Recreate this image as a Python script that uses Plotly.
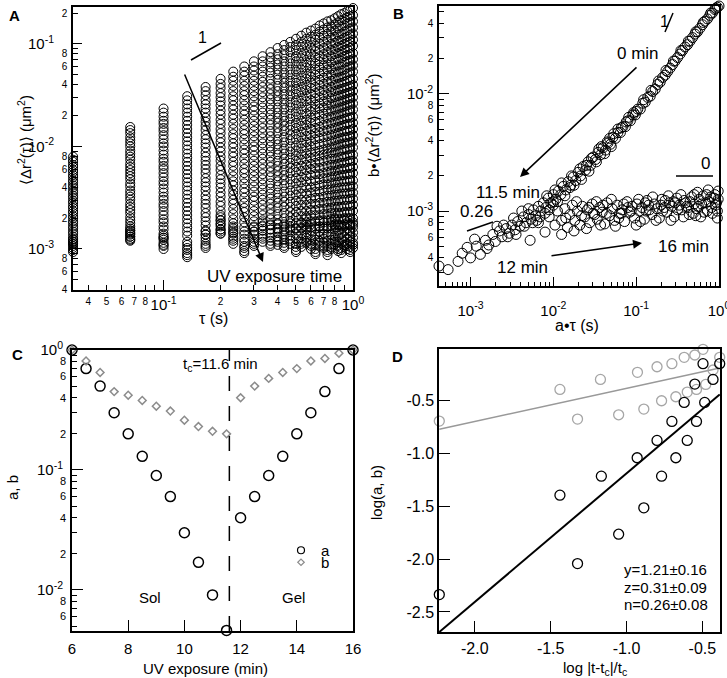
import math
import plotly.graph_objects as go

# ---------------- DATA ----------------
# Panel A: lag times (s) and log10 MSD (um^2) per curve
tau_s = [0.0333, 0.0667, 0.1, 0.1333, 0.1667, 0.2, 0.2333, 0.2667, 0.3, 0.3333,
         0.3667, 0.4, 0.4333, 0.4667, 0.5, 0.5333, 0.5667, 0.6, 0.6333, 0.6667,
         0.7, 0.7333, 0.7667, 0.8, 0.8333, 0.8667, 0.9, 0.9333, 0.9667, 1.0]

msd_sol_log10 = [
    [-2.10,-1.81,-1.63,-1.51,-1.42,-1.34,-1.27,-1.22,-1.17,-1.12,-1.08,-1.04,-1.01,-0.98,-0.95,-0.92,-0.89,-0.87,-0.85,-0.82,-0.80,-0.78,-0.77,-0.75,-0.73,-0.71,-0.70,-0.68,-0.67,-0.65],
    [-2.13,-1.84,-1.67,-1.55,-1.46,-1.39,-1.32,-1.27,-1.22,-1.17,-1.13,-1.10,-1.06,-1.03,-1.01,-0.98,-0.95,-0.93,-0.91,-0.88,-0.86,-0.84,-0.83,-0.81,-0.79,-0.77,-0.76,-0.74,-0.73,-0.72],
    [-2.15,-1.87,-1.71,-1.59,-1.50,-1.43,-1.36,-1.31,-1.26,-1.22,-1.18,-1.15,-1.11,-1.08,-1.06,-1.03,-1.01,-0.98,-0.96,-0.94,-0.92,-0.90,-0.88,-0.87,-0.85,-0.83,-0.82,-0.80,-0.79,-0.78],
    [-2.18,-1.91,-1.75,-1.63,-1.55,-1.48,-1.41,-1.36,-1.31,-1.27,-1.23,-1.20,-1.17,-1.14,-1.12,-1.09,-1.07,-1.04,-1.02,-1.00,-0.98,-0.96,-0.94,-0.93,-0.91,-0.90,-0.88,-0.87,-0.85,-0.84],
    [-2.20,-1.94,-1.78,-1.67,-1.59,-1.52,-1.46,-1.41,-1.36,-1.32,-1.28,-1.25,-1.22,-1.19,-1.17,-1.14,-1.12,-1.10,-1.07,-1.06,-1.04,-1.02,-1.00,-0.99,-0.97,-0.96,-0.94,-0.93,-0.91,-0.90],
    [-2.23,-1.97,-1.82,-1.71,-1.63,-1.56,-1.51,-1.46,-1.41,-1.37,-1.34,-1.30,-1.28,-1.25,-1.22,-1.20,-1.18,-1.16,-1.13,-1.12,-1.10,-1.08,-1.06,-1.05,-1.03,-1.02,-1.00,-0.99,-0.98,-0.96],
    [-2.25,-2.00,-1.85,-1.75,-1.67,-1.60,-1.55,-1.50,-1.46,-1.42,-1.39,-1.35,-1.33,-1.30,-1.27,-1.25,-1.23,-1.21,-1.19,-1.17,-1.15,-1.14,-1.12,-1.10,-1.09,-1.08,-1.06,-1.05,-1.04,-1.02],
    [-2.28,-2.04,-1.89,-1.79,-1.72,-1.65,-1.60,-1.55,-1.51,-1.47,-1.44,-1.41,-1.38,-1.36,-1.33,-1.31,-1.29,-1.27,-1.25,-1.23,-1.21,-1.20,-1.18,-1.16,-1.15,-1.14,-1.12,-1.11,-1.10,-1.09],
    [-2.30,-2.07,-1.93,-1.83,-1.76,-1.69,-1.64,-1.60,-1.56,-1.52,-1.49,-1.46,-1.43,-1.41,-1.38,-1.36,-1.34,-1.32,-1.30,-1.29,-1.27,-1.25,-1.24,-1.22,-1.21,-1.20,-1.18,-1.17,-1.16,-1.15],
    [-2.33,-2.10,-1.97,-1.87,-1.80,-1.74,-1.69,-1.65,-1.61,-1.57,-1.54,-1.51,-1.49,-1.46,-1.44,-1.42,-1.40,-1.38,-1.36,-1.35,-1.33,-1.31,-1.30,-1.28,-1.27,-1.26,-1.25,-1.23,-1.22,-1.21],
    [-2.35,-2.13,-2.00,-1.91,-1.84,-1.78,-1.73,-1.69,-1.65,-1.62,-1.59,-1.56,-1.54,-1.51,-1.49,-1.47,-1.45,-1.43,-1.42,-1.40,-1.39,-1.37,-1.36,-1.34,-1.33,-1.32,-1.31,-1.29,-1.28,-1.27],
    [-2.38,-2.17,-2.04,-1.95,-1.89,-1.83,-1.78,-1.74,-1.70,-1.67,-1.64,-1.62,-1.59,-1.57,-1.55,-1.53,-1.51,-1.49,-1.48,-1.46,-1.45,-1.43,-1.42,-1.40,-1.39,-1.38,-1.37,-1.36,-1.35,-1.34],
    [-2.40,-2.20,-2.08,-1.99,-1.93,-1.87,-1.83,-1.79,-1.75,-1.72,-1.69,-1.67,-1.64,-1.62,-1.60,-1.58,-1.56,-1.55,-1.53,-1.52,-1.50,-1.49,-1.47,-1.46,-1.45,-1.44,-1.43,-1.42,-1.41,-1.40],
    [-2.43,-2.23,-2.12,-2.03,-1.97,-1.92,-1.88,-1.84,-1.80,-1.77,-1.74,-1.72,-1.70,-1.68,-1.66,-1.64,-1.62,-1.61,-1.59,-1.58,-1.56,-1.55,-1.53,-1.52,-1.51,-1.50,-1.49,-1.48,-1.47,-1.46],
    [-2.45,-2.26,-2.15,-2.07,-2.01,-1.96,-1.92,-1.88,-1.85,-1.82,-1.79,-1.77,-1.75,-1.73,-1.71,-1.69,-1.68,-1.66,-1.64,-1.63,-1.62,-1.60,-1.59,-1.58,-1.57,-1.56,-1.55,-1.54,-1.53,-1.52],
    [-2.48,-2.29,-2.19,-2.11,-2.06,-2.01,-1.97,-1.93,-1.90,-1.87,-1.85,-1.82,-1.80,-1.79,-1.77,-1.75,-1.74,-1.72,-1.70,-1.69,-1.68,-1.66,-1.65,-1.64,-1.63,-1.62,-1.61,-1.60,-1.59,-1.58],
    [-2.50,-2.32,-2.22,-2.15,-2.10,-2.05,-2.01,-1.98,-1.95,-1.92,-1.90,-1.87,-1.85,-1.84,-1.82,-1.80,-1.79,-1.77,-1.76,-1.75,-1.73,-1.72,-1.71,-1.70,-1.69,-1.68,-1.67,-1.66,-1.65,-1.64],
    [-2.53,-2.36,-2.26,-2.19,-2.14,-2.10,-2.06,-2.03,-2.00,-1.97,-1.95,-1.93,-1.91,-1.89,-1.88,-1.86,-1.85,-1.83,-1.82,-1.81,-1.79,-1.78,-1.77,-1.76,-1.75,-1.74,-1.73,-1.72,-1.72,-1.71],
    [-2.55,-2.39,-2.30,-2.23,-2.18,-2.14,-2.10,-2.07,-2.04,-2.02,-2.00,-1.98,-1.96,-1.94,-1.93,-1.91,-1.90,-1.89,-1.87,-1.86,-1.85,-1.84,-1.83,-1.82,-1.81,-1.80,-1.79,-1.78,-1.78,-1.77],
    [-2.58,-2.43,-2.34,-2.27,-2.22,-2.19,-2.15,-2.12,-2.09,-2.07,-2.05,-2.03,-2.02,-2.00,-1.99,-1.97,-1.96,-1.95,-1.93,-1.92,-1.91,-1.90,-1.89,-1.88,-1.87,-1.86,-1.85,-1.85,-1.84,-1.83],
    [-2.60,-2.46,-2.37,-2.31,-2.26,-2.23,-2.19,-2.17,-2.14,-2.12,-2.10,-2.08,-2.07,-2.05,-2.04,-2.02,-2.01,-2.00,-1.99,-1.98,-1.97,-1.96,-1.95,-1.94,-1.93,-1.92,-1.91,-1.91,-1.90,-1.89],
    [-2.63,-2.49,-2.41,-2.35,-2.31,-2.28,-2.24,-2.22,-2.19,-2.17,-2.15,-2.14,-2.12,-2.11,-2.09,-2.08,-2.07,-2.06,-2.05,-2.04,-2.03,-2.02,-2.01,-2.00,-1.99,-1.98,-1.97,-1.97,-1.96,-1.95],
    [-2.65,-2.52,-2.45,-2.39,-2.35,-2.32,-2.29,-2.26,-2.24,-2.22,-2.20,-2.19,-2.17,-2.16,-2.14,-2.13,-2.12,-2.11,-2.10,-2.09,-2.08,-2.07,-2.06,-2.06,-2.05,-2.04,-2.03,-2.03,-2.02,-2.01],
    [-2.68,-2.56,-2.49,-2.43,-2.39,-2.36,-2.34,-2.31,-2.29,-2.27,-2.25,-2.24,-2.23,-2.21,-2.20,-2.19,-2.18,-2.17,-2.16,-2.15,-2.14,-2.13,-2.12,-2.12,-2.11,-2.10,-2.10,-2.09,-2.08,-2.08],
    [-2.70,-2.59,-2.52,-2.47,-2.43,-2.40,-2.38,-2.36,-2.34,-2.32,-2.30,-2.29,-2.28,-2.26,-2.25,-2.24,-2.23,-2.22,-2.21,-2.21,-2.20,-2.19,-2.18,-2.18,-2.17,-2.16,-2.16,-2.15,-2.14,-2.14],
    [-2.73,-2.62,-2.56,-2.51,-2.48,-2.45,-2.43,-2.41,-2.39,-2.37,-2.36,-2.34,-2.33,-2.32,-2.31,-2.30,-2.29,-2.28,-2.27,-2.27,-2.26,-2.25,-2.24,-2.24,-2.23,-2.22,-2.22,-2.21,-2.21,-2.20],
    [-2.75,-2.65,-2.59,-2.55,-2.52,-2.49,-2.47,-2.45,-2.44,-2.42,-2.41,-2.39,-2.38,-2.37,-2.36,-2.35,-2.34,-2.34,-2.33,-2.32,-2.31,-2.31,-2.30,-2.29,-2.29,-2.28,-2.28,-2.27,-2.27,-2.26],
    [-2.78,-2.69,-2.63,-2.59,-2.56,-2.54,-2.52,-2.50,-2.49,-2.47,-2.46,-2.45,-2.44,-2.43,-2.42,-2.41,-2.40,-2.40,-2.39,-2.38,-2.37,-2.37,-2.36,-2.35,-2.35,-2.34,-2.34,-2.34,-2.33,-2.33],
    [-2.80,-2.72,-2.67,-2.63,-2.60,-2.58,-2.56,-2.55,-2.53,-2.52,-2.51,-2.50,-2.49,-2.48,-2.47,-2.46,-2.46,-2.45,-2.44,-2.44,-2.43,-2.42,-2.42,-2.41,-2.41,-2.40,-2.40,-2.40,-2.39,-2.39],
    [-2.83,-2.75,-2.71,-2.67,-2.65,-2.63,-2.61,-2.60,-2.58,-2.57,-2.56,-2.55,-2.54,-2.54,-2.53,-2.52,-2.52,-2.51,-2.50,-2.50,-2.49,-2.48,-2.48,-2.47,-2.47,-2.46,-2.46,-2.46,-2.45,-2.45],
    [-2.85,-2.78,-2.74,-2.71,-2.69,-2.67,-2.66,-2.64,-2.63,-2.62,-2.61,-2.60,-2.59,-2.59,-2.58,-2.57,-2.57,-2.56,-2.56,-2.55,-2.55,-2.54,-2.54,-2.53,-2.53,-2.52,-2.52,-2.52,-2.51,-2.51],
    [-2.88,-2.82,-2.78,-2.75,-2.73,-2.72,-2.71,-2.69,-2.68,-2.67,-2.66,-2.66,-2.65,-2.64,-2.64,-2.63,-2.63,-2.62,-2.62,-2.61,-2.61,-2.60,-2.60,-2.59,-2.59,-2.59,-2.58,-2.58,-2.58,-2.57],
    [-2.90,-2.85,-2.81,-2.79,-2.77,-2.76,-2.75,-2.74,-2.73,-2.72,-2.71,-2.71,-2.70,-2.69,-2.69,-2.68,-2.68,-2.67,-2.67,-2.67,-2.66,-2.66,-2.65,-2.65,-2.65,-2.65,-2.64,-2.64,-2.64,-2.63],
    [-2.93,-2.88,-2.85,-2.83,-2.82,-2.81,-2.80,-2.79,-2.78,-2.77,-2.76,-2.76,-2.76,-2.75,-2.75,-2.74,-2.74,-2.73,-2.73,-2.73,-2.72,-2.72,-2.71,-2.71,-2.71,-2.71,-2.70,-2.70,-2.70,-2.70],
    [-2.95,-2.91,-2.89,-2.87,-2.86,-2.85,-2.84,-2.83,-2.83,-2.82,-2.81,-2.81,-2.81,-2.80,-2.80,-2.79,-2.79,-2.79,-2.78,-2.78,-2.78,-2.78,-2.77,-2.77,-2.77,-2.77,-2.76,-2.76,-2.76,-2.76],
]

msd_gel_log10 = [
    [-3.03,-2.92,-3.00,-3.08,-2.99,-2.85,-2.95,-3.04,-2.97,-2.93,-2.97,-2.96,-2.99,-2.95,-3.03,-2.98,-2.94,-3.00,-3.05,-2.97,-2.99,-3.06,-3.00,-2.96,-3.02,-3.04,-2.98,-3.00,-3.03,-2.99],
    [-3.01,-2.90,-2.97,-3.06,-2.97,-2.83,-2.92,-3.02,-2.95,-2.90,-2.95,-2.93,-2.97,-2.92,-3.01,-2.95,-2.92,-2.97,-3.03,-2.94,-2.97,-3.03,-2.98,-2.93,-3.00,-3.01,-2.96,-2.97,-3.01,-2.96],
    [-2.99,-2.88,-2.96,-3.04,-2.95,-2.81,-2.90,-2.99,-2.93,-2.88,-2.92,-2.91,-2.94,-2.90,-2.98,-2.93,-2.89,-2.95,-3.00,-2.92,-2.94,-3.01,-2.95,-2.91,-2.97,-2.99,-2.93,-2.95,-2.98,-2.94],
    [-2.97,-2.86,-2.94,-3.01,-2.92,-2.78,-2.88,-2.97,-2.90,-2.86,-2.89,-2.88,-2.91,-2.87,-2.95,-2.90,-2.86,-2.91,-2.96,-2.88,-2.90,-2.97,-2.91,-2.87,-2.93,-2.94,-2.88,-2.90,-2.93,-2.89],
    [-2.95,-2.84,-2.91,-2.99,-2.89,-2.75,-2.85,-2.93,-2.86,-2.82,-2.85,-2.84,-2.87,-2.82,-2.90,-2.85,-2.81,-2.87,-2.91,-2.83,-2.85,-2.92,-2.86,-2.81,-2.87,-2.89,-2.83,-2.85,-2.88,-2.84],
    [-2.93,-2.82,-2.89,-2.96,-2.86,-2.72,-2.82,-2.90,-2.83,-2.78,-2.81,-2.80,-2.83,-2.78,-2.85,-2.80,-2.76,-2.82,-2.86,-2.78,-2.80,-2.86,-2.80,-2.76,-2.82,-2.84,-2.78,-2.80,-2.83,-2.79],
    [-2.91,-2.80,-2.87,-2.93,-2.83,-2.69,-2.78,-2.86,-2.79,-2.74,-2.77,-2.75,-2.78,-2.73,-2.80,-2.75,-2.70,-2.76,-2.80,-2.72,-2.74,-2.80,-2.74,-2.70,-2.76,-2.78,-2.72,-2.74,-2.77,-2.74],
]

# Panel B: (log10 a*tau, log10 b*MSD) pairs
b_sol_points = [
    (-3.38,-3.47),(-3.27,-3.50),(-3.15,-3.43),(-3.10,-3.36),(-3.04,-3.31),(-3.00,-3.40),(-2.93,-3.30),(-2.88,-3.37),
    (-2.82,-3.25),(-2.78,-3.29),(-2.73,-3.20),(-2.70,-3.26),(-2.65,-3.17),(-2.62,-3.22),(-2.57,-3.15),(-2.53,-3.19),
    (-2.50,-3.12),(-2.46,-3.16),(-2.43,-3.09),(-2.40,-3.13),(-2.36,-3.05),(-2.33,-3.10),(-2.30,-3.03),(-2.27,-3.07),
    (-2.24,-2.99),(-2.21,-3.04),(-2.18,-2.96),(-2.15,-3.00),(-2.12,-2.93),(-2.09,-2.97),(-2.06,-2.89),(-2.03,-2.93),
    (-2.00,-2.86),(-1.97,-2.90),(-1.94,-2.83),(-1.91,-2.86),(-1.88,-2.79),(-1.85,-2.82),(-1.82,-2.75),(-1.79,-2.78),
    (-1.76,-2.71),(-1.73,-2.74),(-1.70,-2.67),(-1.67,-2.70),(-1.64,-2.62),(-1.61,-2.65),(-1.58,-2.58),(-1.55,-2.61),
    (-1.52,-2.54),(-1.49,-2.56),(-1.46,-2.50),(-1.43,-2.52),(-1.40,-2.46),(-1.37,-2.48),(-1.34,-2.42),(-1.31,-2.43),
    (-1.28,-2.37),(-1.25,-2.38),(-1.22,-2.33),(-1.19,-2.33),(-1.16,-2.28),(-1.13,-2.28),(-1.10,-2.23),(-1.07,-2.23),
    (-1.04,-2.18),(-1.01,-2.18),(-0.98,-2.13),(-0.95,-2.13),(-0.92,-2.08),(-0.89,-2.07),(-0.86,-2.03),(-0.83,-2.02),
    (-0.80,-1.98),(-0.77,-1.96),(-0.74,-1.92),(-0.71,-1.90),(-0.68,-1.86),(-0.65,-1.84),(-0.62,-1.81),(-0.59,-1.78),
    (-0.56,-1.75),(-0.53,-1.72),(-0.50,-1.69),(-0.47,-1.66),(-0.44,-1.63),(-0.41,-1.60),(-0.38,-1.58),(-0.35,-1.55),
    (-0.32,-1.52),(-0.29,-1.49),(-0.26,-1.47),(-0.23,-1.44),(-0.20,-1.41),(-0.17,-1.38),(-0.14,-1.36),(-0.11,-1.33),
    (-0.08,-1.31),(-0.05,-1.28),(-0.02,-1.26),(0.00,-1.25),
    (-1.45,-2.47),(-1.35,-2.41),(-1.27,-2.34),(-1.18,-2.29),(-1.09,-2.20),(-1.00,-2.15),(-0.91,-2.05),(-0.82,-1.97),
    (-0.73,-1.89),(-0.64,-1.80),(-0.55,-1.72),(-0.46,-1.63),(-0.37,-1.55),(-0.28,-1.47),(-0.19,-1.39),(-0.10,-1.31),
    (-0.04,-1.27),(-2.95,-3.24),(-2.60,-3.12),(-2.38,-3.00),(-2.20,-3.08),(-2.00,-2.92),(-1.80,-2.80),(-1.60,-2.61),
    (-1.90,-2.76),(-2.10,-3.02),(-2.45,-3.20),
    (-2.80,-3.32),(-2.55,-3.22),(-2.35,-3.13),(-2.25,-3.10),(-2.16,-3.05),(-2.05,-2.99),(-1.95,-2.92),(-1.86,-2.87),
    (-1.75,-2.78),(-1.66,-2.73),(-1.57,-2.66),(-1.48,-2.58),(-1.38,-2.51),(-1.30,-2.45),(-2.68,-3.13),(-2.48,-3.06),
    (-2.30,-2.98),(-2.08,-2.87),(-1.98,-2.82),(-1.78,-2.70),(-1.68,-2.64),(-1.54,-2.55),(-1.42,-2.45),(-1.32,-2.38),
    (-1.22,-2.30),(-1.12,-2.24),(-1.03,-2.16),
]

b_gel_points = [
    (-2.28,-3.25),(-2.18,-3.10),(-2.10,-3.18),(-2.05,-3.05),(-1.98,-3.12),(-1.95,-3.00),(-1.90,-3.08),(-1.86,-2.98),
    (-1.83,-3.14),(-1.80,-3.03),(-1.77,-2.95),(-1.74,-3.08),(-1.71,-3.00),(-1.68,-3.12),(-1.65,-2.96),(-1.62,-3.05),
    (-1.59,-2.99),(-1.56,-3.10),(-1.53,-2.94),(-1.50,-3.03),(-1.47,-3.07),(-1.44,-2.97),(-1.41,-3.01),(-1.38,-3.11),
    (-1.35,-2.93),(-1.32,-3.04),(-1.29,-2.98),(-1.26,-3.08),(-1.23,-2.95),(-1.20,-3.02),(-1.17,-2.99),(-1.14,-3.09),
    (-1.11,-2.92),(-1.08,-3.01),(-1.05,-2.96),(-1.02,-3.06),(-0.99,-2.94),(-0.96,-3.00),(-0.93,-2.97),(-0.90,-3.07),
    (-0.87,-2.91),(-0.84,-2.99),(-0.81,-3.03),(-0.78,-2.94),(-0.75,-2.98),(-0.72,-3.06),(-0.69,-2.90),(-0.66,-2.97),
    (-0.63,-3.01),(-0.60,-2.93),(-0.57,-2.96),(-0.54,-3.05),(-0.51,-2.89),(-0.48,-2.95),(-0.45,-2.99),(-0.42,-2.91),
    (-0.39,-2.96),(-0.36,-3.03),(-0.33,-2.88),(-0.30,-2.94),(-0.27,-2.98),(-0.24,-2.90),(-0.21,-2.94),(-0.18,-3.01),
    (-0.15,-2.86),(-0.12,-2.92),(-0.09,-2.97),(-0.06,-2.89),(-0.03,-2.93),(-0.01,-2.83),(-0.02,-3.00),
    (-1.60,-3.15),(-1.25,-3.13),(-0.95,-3.09),(-0.70,-2.95),(-0.55,-2.92),(-0.40,-2.93),(-0.25,-2.96),(-0.10,-2.88),
    (-1.40,-2.95),(-1.10,-2.97),(-0.85,-2.95),(-0.65,-2.91),(-0.30,-2.86),(-0.05,-2.86),(-1.90,-3.20),(-1.75,-3.17),
    (-2.00,-2.95),
    (-1.85,-3.06),(-1.72,-2.92),(-1.66,-3.04),(-1.57,-2.97),(-1.48,-2.92),(-1.43,-3.12),(-1.36,-3.02),(-1.30,-2.90),
    (-1.21,-3.06),(-1.15,-2.94),(-1.06,-3.00),(-1.00,-3.12),(-0.97,-2.90),(-0.88,-3.00),(-0.80,-2.88),(-0.76,-3.08),
    (-0.68,-3.00),(-0.61,-2.87),(-0.58,-3.08),(-0.50,-2.99),(-0.46,-2.86),(-0.43,-3.05),(-0.35,-2.92),(-0.31,-3.02),
    (-0.26,-2.84),(-0.22,-3.05),(-0.16,-2.93),(-0.13,-2.82),(-0.08,-3.02),(-0.04,-2.95),(-0.01,-2.90),(-0.19,-2.87),
    (-0.37,-2.97),(-0.53,-2.93),(-0.89,-2.93),(-1.18,-3.02),(-1.52,-3.02),(-0.02,-3.06),(-0.14,-3.00),(-0.28,-3.04),
]

# Panel C: shift factors vs UV exposure
uv_min = [6, 6.5, 7, 7.5, 8, 8.5, 9, 9.5, 10, 10.5, 11, 11.5, 12, 12.5, 13, 13.5, 14, 14.5, 15, 15.5, 16]
a_shift = [1.0, 0.70, 0.50, 0.30, 0.20, 0.13, 0.090, 0.060, 0.030, 0.017, 0.0091, 0.0046,
           0.040, 0.060, 0.090, 0.13, 0.20, 0.30, 0.45, 0.70, 1.0]
b_shift = [1.0, 0.81, 0.65, 0.45, 0.42, 0.38, 0.34, 0.31, 0.26, 0.23, 0.21, 0.20,
           0.40, 0.50, 0.58, 0.65, 0.70, 0.81, 0.85, 0.94, 1.0]
t_c = 11.6

# Panel D: scaling of shift factors
d_logdt_a = [-2.234,-1.439,-1.323,-1.166,-1.052,-0.930,-0.886,-0.799,-0.769,-0.701,-0.675,-0.620,-0.600,-0.550,-0.539,-0.496,-0.485,-0.430,-0.386]
d_loga    = [-2.336,-1.394,-2.042,-1.214,-1.764,-1.040,-1.514,-0.876,-1.214,-0.696,-1.040,-0.516,-0.876,-0.342,-0.696,-0.149,-0.516,-0.298,-0.149]
d_logdt_b = [-2.234,-1.439,-1.323,-1.172,-1.052,-0.928,-0.886,-0.799,-0.769,-0.701,-0.675,-0.620,-0.600,-0.550,-0.539,-0.496,-0.478,-0.430,-0.386]
d_logb    = [-0.693,-0.393,-0.674,-0.298,-0.633,-0.231,-0.579,-0.178,-0.500,-0.149,-0.462,-0.089,-0.418,-0.067,-0.393,-0.013,-0.345,-0.209,-0.089]
fit_x = [-2.234, -0.386]
fit_a = [-2.69, -0.44]
fit_b = [-0.77, -0.19]

# ---------------- FIGURE ----------------
W, H = 727, 678
def px(x): return x / W
def py(y): return 1 - y / H

FONT = "Arial, Liberation Sans, sans-serif"
BLACK = "black"
GRAY_B = "#8c8c8c"
GRAY_D = "#a6a6a6"

fig = go.Figure()

# Panel A
for rows in (msd_sol_log10, msd_gel_log10):
    xs, ys = [], []
    for r in rows:
        xs += tau_s
        ys += [10 ** v for v in r]
    fig.add_trace(go.Scatter(x=xs, y=ys, mode="markers", xaxis="x", yaxis="y", cliponaxis=False,
                             marker=dict(symbol="circle-open", size=9, color=BLACK, line=dict(width=1)),
                             showlegend=False, hoverinfo="skip"))
fig.add_trace(go.Scatter(x=[], y=[], xaxis="x5", yaxis="y5", showlegend=False))

# Panel B
for pts in (b_sol_points, b_gel_points):
    fig.add_trace(go.Scatter(x=[10 ** p[0] for p in pts], y=[10 ** p[1] for p in pts], mode="markers",
                             xaxis="x2", yaxis="y2", cliponaxis=False,
                             marker=dict(symbol="circle-open", size=10, color=BLACK, line=dict(width=1)),
                             showlegend=False, hoverinfo="skip"))
fig.add_trace(go.Scatter(x=[], y=[], xaxis="x2", yaxis="y6", showlegend=False))

# Panel C
fig.add_trace(go.Scatter(x=uv_min, y=a_shift, mode="markers", name="a", xaxis="x3", yaxis="y3", cliponaxis=False,
                         showlegend=False,
                         marker=dict(symbol="circle-open", size=10, color=BLACK, line=dict(width=1.5))))
fig.add_trace(go.Scatter(x=uv_min, y=b_shift, mode="markers", name="b", xaxis="x3", yaxis="y3", cliponaxis=False,
                         showlegend=False,
                         marker=dict(symbol="diamond-open", size=6, color=GRAY_B, line=dict(width=1.5))))
# legend entries (small symbols as in the original key)
fig.add_trace(go.Scatter(x=[None], y=[None], mode="markers", name="a", xaxis="x3", yaxis="y3", legend="legend",
                         marker=dict(symbol="circle-open", size=7, color=BLACK, line=dict(width=1.2))))
fig.add_trace(go.Scatter(x=[None], y=[None], mode="markers", name="b", xaxis="x3", yaxis="y3", legend="legend2",
                         marker=dict(symbol="diamond-open", size=5, color=GRAY_B, line=dict(width=1.2))))
fig.add_trace(go.Scatter(x=[], y=[], xaxis="x3", yaxis="y7", showlegend=False))

# Panel D
fig.add_trace(go.Scatter(x=fit_x, y=fit_a, mode="lines", xaxis="x4", yaxis="y4", showlegend=False,
                         line=dict(color=BLACK, width=2)))
fig.add_trace(go.Scatter(x=fit_x, y=fit_b, mode="lines", xaxis="x4", yaxis="y4", showlegend=False,
                         line=dict(color="#999999", width=1.5)))
fig.add_trace(go.Scatter(x=d_logdt_b, y=d_logb, mode="markers", xaxis="x4", yaxis="y4", cliponaxis=False,
                         showlegend=False, marker=dict(symbol="circle-open", size=10, color=GRAY_D, line=dict(width=1.3))))
fig.add_trace(go.Scatter(x=d_logdt_a, y=d_loga, mode="markers", xaxis="x4", yaxis="y4", cliponaxis=False,
                         showlegend=False, marker=dict(symbol="circle-open", size=10, color=BLACK, line=dict(width=1.3))))


def base_axis(**kw):
    d = dict(showline=True, linecolor=BLACK, linewidth=1.5, mirror=True, ticks="inside", tickcolor=BLACK,
             tickwidth=1.2, ticklen=5, showgrid=False, zeroline=False, fixedrange=True,
             tickfont=dict(size=10, color=BLACK, family=FONT), autorange=False)
    d.update(kw)
    return d


def overlay_axis(**kw):
    d = dict(showline=False, ticks="inside", tickcolor=BLACK, tickwidth=1.2, ticklen=10, showgrid=False,
             zeroline=False, fixedrange=True, tickfont=dict(size=15, color=BLACK, family=FONT), autorange=False,
             tickmode="array", ticklabeloverflow="allow")
    d.update(kw)
    return d


def minor(vals):
    return dict(tickmode="array", tickvals=vals, ticks="inside", ticklen=5, tickcolor=BLACK, tickwidth=1)


A_x_lab = [0.04, 0.05, 0.06, 0.07, 0.08, 0.2, 0.3, 0.4, 0.5, 0.6, 0.7, 0.8]
A_y_lab = [0.2, 0.08, 0.06, 0.04, 0.02, 0.008, 0.006, 0.004, 0.002, 0.0008, 0.0006, 0.0004]
A_y_min = [0.09, 0.07, 0.05, 0.03, 0.009, 0.007, 0.005, 0.003, 0.0009, 0.0007, 0.0005]
B_x_min = [5e-4, 6e-4, 7e-4, 8e-4, 9e-4] + [m * 1e-3 for m in range(2, 10)] + \
          [m * 1e-2 for m in range(2, 10)] + [m * 1e-1 for m in range(2, 10)]
B_y_lab = [0.04, 0.02, 0.008, 0.006, 0.004, 0.002, 0.0008, 0.0006, 0.0004]
B_y_min = [0.05, 0.03, 0.009, 0.007, 0.005, 0.003, 0.0009, 0.0007, 0.0005, 0.0003]
C_y_lab = [0.8, 0.6, 0.4, 0.2, 0.08, 0.06, 0.04, 0.02, 0.008, 0.006]
C_y_min = [0.9, 0.7, 0.5, 0.3, 0.09, 0.07, 0.05, 0.03, 0.009, 0.007, 0.005]


def digit(v):
    return "%d" % round(v / 10 ** math.floor(math.log10(v) + 1e-9))


def leg(xp, yp):
    return dict(x=px(xp), y=py(yp), xanchor="left", yanchor="top", bgcolor="rgba(0,0,0,0)",
                font=dict(size=15, color=BLACK, family=FONT), itemwidth=30, tracegroupgap=0)


fig.update_layout(
    width=W, height=H, margin=dict(l=0, r=0, t=0, b=0),
    paper_bgcolor="white", plot_bgcolor="white", template="none",
    font=dict(family=FONT, color=BLACK),
    # A
    xaxis=base_axis(type="log", range=[-1.478, 0], domain=[px(73), px(353)], anchor="y",
                    tickmode="array", tickvals=A_x_lab, ticktext=[digit(v) for v in A_x_lab],
                    minor=minor([0.09, 0.9]), ticklabelstandoff=1),
    yaxis=base_axis(type="log", range=[-3.40, -0.64], domain=[py(290), py(7)], anchor="x",
                    tickmode="array", tickvals=A_y_lab, ticktext=[digit(v) for v in A_y_lab],
                    minor=minor(A_y_min), ticklabelstandoff=2),
    xaxis5=overlay_axis(type="log", range=[-1.478, 0], overlaying="x", anchor="y", side="bottom",
                        tickvals=[0.1, 1.0], ticktext=["10<sup>-1</sup>", "10<sup>0</sup>"], ticklen=10,
                        ticklabelstandoff=4),
    yaxis5=overlay_axis(type="log", range=[-3.40, -0.64], overlaying="y", anchor="x", side="left",
                        tickvals=[0.1, 0.01, 0.001],
                        ticktext=["10<sup>-1</sup>", "10<sup>-2</sup>", "10<sup>-3</sup>"],
                        ticklen=9, ticklabelstandoff=18),
    # B
    xaxis2=base_axis(type="log", range=[-3.38, 0], domain=[px(439), px(719)], anchor="y2",
                     tickmode="array", tickvals=[0.001, 0.01, 0.1, 1.0],
                     ticktext=["10<sup>-3</sup>", "10<sup>-2</sup>", "10<sup>-1</sup>", "10<sup>0</sup>"],
                     tickfont=dict(size=15, color=BLACK, family=FONT), ticklen=9,
                     minor=dict(tickmode="array", tickvals=B_x_min, ticks="inside", ticklen=4,
                                tickcolor=BLACK, tickwidth=1),
                     ticklabelstandoff=10, ticklabeloverflow="allow"),
    yaxis2=base_axis(type="log", range=[-3.64, -1.25], domain=[py(286), py(6)], anchor="x2",
                     tickmode="array", tickvals=B_y_lab, ticktext=[digit(v) for v in B_y_lab],
                     minor=minor(B_y_min), ticklabelstandoff=2),
    yaxis6=overlay_axis(type="log", range=[-3.64, -1.25], overlaying="y2", anchor="x2", side="left",
                        tickvals=[0.01, 0.001], ticktext=["10<sup>-2</sup>", "10<sup>-3</sup>"],
                        ticklen=10, ticklabelstandoff=5),
    # C
    xaxis3=base_axis(range=[6, 16], domain=[px(72), px(353)], anchor="y3", tickmode="array",
                     tickvals=[6, 8, 10, 12, 14, 16], ticktext=["6", "8", "10", "12", "14", "16"],
                     ticklen=11, tickfont=dict(size=15, color=BLACK, family=FONT), ticklabelstandoff=3),
    yaxis3=base_axis(type="log", range=[-2.342, 0], domain=[py(631), py(350)], anchor="x3",
                     tickmode="array", tickvals=C_y_lab, ticktext=[digit(v) for v in C_y_lab],
                     tickfont=dict(size=11, color=BLACK, family=FONT),
                     minor=minor(C_y_min), ticklabelstandoff=2),
    yaxis7=overlay_axis(type="log", range=[-2.342, 0], overlaying="y3", anchor="x3", side="left",
                        tickvals=[1.0, 0.1, 0.01],
                        ticktext=["10<sup>0</sup>", "10<sup>-1</sup>", "10<sup>-2</sup>"],
                        ticklen=11, ticklabelstandoff=8),
    # D
    xaxis4=base_axis(range=[-2.236, -0.384], domain=[px(439), px(720)], anchor="y4", tickmode="array",
                     tickvals=[-2.0, -1.5, -1.0, -0.5], ticktext=["-2.0", "-1.5", "-1.0", "-0.5"],
                     ticklen=11, tickfont=dict(size=16, color=BLACK, family=FONT), ticklabelstandoff=1),
    yaxis4=base_axis(range=[-2.69, -0.01], domain=[py(632), py(349)], anchor="x4", tickmode="array",
                     tickvals=[-2.5, -2.0, -1.5, -1.0, -0.5], ticktext=["-2.5", "-2.0", "-1.5", "-1.0", "-0.5"],
                     ticklen=11, tickfont=dict(size=16, color=BLACK, family=FONT), ticklabelstandoff=0),
    legend=leg(281, 534),
    legend2=leg(281, 546),
    showlegend=True,
)

anns = []


def txt(x, y, s, size=15, angle=0, bold=False, xanchor="center"):
    anns.append(dict(x=px(x), y=py(y), xref="paper", yref="paper", text=("<b>%s</b>" % s) if bold else s,
                     showarrow=False, textangle=angle, xanchor=xanchor, yanchor="middle",
                     font=dict(size=size, color=BLACK, family=FONT)))


def arrow(hx, hy, tx, ty):
    anns.append(dict(x=px(hx), y=py(hy), xref="paper", yref="paper", text="", showarrow=True,
                     ax=tx - hx, ay=ty - hy, axref="pixel", ayref="pixel", arrowhead=2, arrowsize=1.2,
                     arrowwidth=1.5, arrowcolor=BLACK))


# panel letters
txt(14, 15, "A", 15, bold=True)
txt(398, 14, "B", 15, bold=True)
txt(17, 354, "C", 15, bold=True)
txt(397, 356, "D", 15, bold=True)

# A
txt(24, 140, "\u27e8\u0394r<sup>2</sup>(\u03c4)\u27e9 (\u03bcm<sup>2</sup>)", 15, angle=-90)
txt(213, 318, "\u03c4 (s)", 16)
txt(274, 276, "UV exposure time", 17)
txt(202, 37, "1", 16)
arrow(263, 262, 184, 73)

# B
txt(372, 125, "b\u2022\u27e8\u0394r<sup>2</sup>(\u03c4)\u27e9 (\u03bcm<sup>2</sup>)", 15, angle=-90)
txt(577, 325, "a\u2022\u03c4 (s)", 16)
txt(638, 53, "0 min", 17)
arrow(520, 177, 638, 66)
txt(508, 192, "11.5 min", 17)
txt(476, 212, "0.26", 17)
txt(664, 21, "1", 16)
txt(705, 164, "0", 17)
txt(683, 247, "16 min", 17)
txt(522, 267, "12 min", 17)
arrow(642, 243, 550, 256)

# C
txt(12, 487, "a, b", 15, angle=-90)
txt(205, 668, "UV exposure (min)", 15)
txt(220, 364, "t<sub>c</sub>=11.6 min", 15)
txt(150, 597, "Sol", 15)
txt(293, 597, "Gel", 15)

# D
txt(376, 493, "log(a, b)", 15, angle=-90)
txt(595, 668, "log |t-t<sub>c</sub>|/t<sub>c</sub>", 15)
txt(622, 569, "y=1.21\u00b10.16", 15, xanchor="left")
txt(622, 587, "z=0.31\u00b10.09", 15, xanchor="left")
txt(622, 604, "n=0.26\u00b10.08", 15, xanchor="left")

fig.update_layout(annotations=anns)

shapes = []


def seg(x0, y0, x1, y1, w=1.5):
    shapes.append(dict(type="line", xref="paper", yref="paper", x0=px(x0), y0=py(y0), x1=px(x1), y1=py(y1),
                       line=dict(color=BLACK, width=w)))


seg(191, 60, 221, 43)       # A slope 1
seg(467, 231, 493, 222)     # B slope 0.26
seg(665, 32, 673, 13)       # B slope 1
seg(676, 176, 713, 176)     # B slope 0
shapes.append(dict(type="line", xref="x3", yref="y3 domain", x0=t_c, x1=t_c, y0=0, y1=1,
                   line=dict(color=BLACK, width=1.5, dash="longdash")))
fig.update_layout(shapes=shapes)

fig.write_html("out.html", config={"displayModeBar": False},
               post_script="document.body.style.margin='0';document.body.style.overflow='hidden';")
